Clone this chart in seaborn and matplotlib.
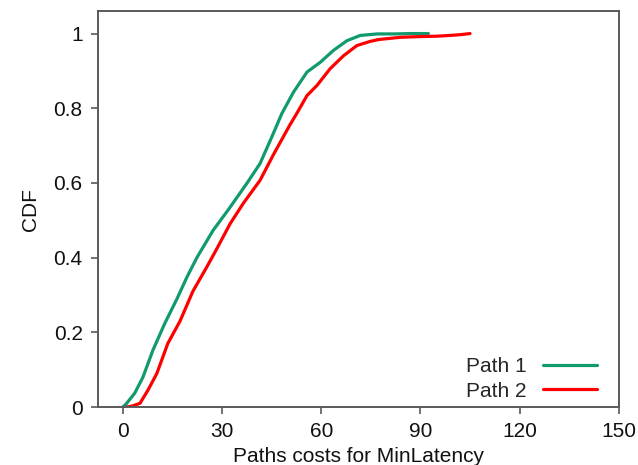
import matplotlib
matplotlib.use("Agg")
import matplotlib.pyplot as plt
import seaborn as sns
import pandas as pd

# CDF of path costs (x = cost, y = cumulative fraction)
path1_cost = [0.0, 1.0, 3.6, 6.1, 9.1, 12.7, 16.4, 19.4, 22.4, 27.3, 31.8, 37.6,
              41.5, 45.0, 48.1, 51.6, 55.7, 59.7, 63.7, 67.8, 71.8, 76.9,
              82.0, 87.0, 92.4]
path1_cdf = [0.0, 0.008, 0.037, 0.08, 0.152, 0.224, 0.29, 0.348, 0.40, 0.473,
             0.527, 0.60, 0.652, 0.722, 0.786, 0.843, 0.897, 0.923, 0.955, 0.981,
             0.995, 0.999, 0.999, 1.0, 1.0]

path2_cost = [1.2, 3.0, 5.2, 7.6, 10.3, 13.6, 17.3, 21.2, 25.4, 28.2, 32.4, 36.4,
              41.5, 45.5, 48.0, 50.5, 52.6, 55.7, 58.7, 62.7, 66.8, 70.8, 74.8,
              77.3, 84.0, 90.0, 95.0, 99.0, 102.0, 105.0]
path2_cdf = [0.0, 0.003, 0.01, 0.045, 0.09, 0.17, 0.23, 0.31, 0.375, 0.42, 0.49,
             0.545, 0.607, 0.675, 0.715, 0.755, 0.786, 0.834, 0.861, 0.906, 0.941,
             0.968, 0.979, 0.984, 0.99, 0.992, 0.993, 0.995, 0.997, 1.0]

series_names = ["Path 1", "Path 2"]
series_colors = ["#109A6E", "#FF0000"]

x_ticks = [0, 30, 60, 90, 120, 150]
y_ticks = [0, 0.2, 0.4, 0.6, 0.8, 1.0]
y_tick_labels = ["0", "0.2", "0.4", "0.6", "0.8", "1"]

df = pd.concat([
    pd.DataFrame({"cost": path1_cost, "cdf": path1_cdf, "path": series_names[0]}),
    pd.DataFrame({"cost": path2_cost, "cdf": path2_cdf, "path": series_names[1]}),
])

sns.set_theme(style="white")
plt.rcParams["font.family"] = ["Liberation Sans", "DejaVu Sans"]

fig = plt.figure(figsize=(6.38, 4.65), dpi=100)
ax = fig.add_axes([0.1536, 0.1247, 0.8164, 0.8513])

sns.lineplot(data=df, x="cost", y="cdf", hue="path", palette=series_colors,
             sort=False, estimator=None, linewidth=2.3, ax=ax)

ax.set_xlim(-7.5, 150)
ax.set_ylim(0, 1.06)
ax.set_xticks(x_ticks)
ax.set_xticklabels([str(t) for t in x_ticks])
ax.set_yticks(y_ticks)
ax.set_yticklabels(y_tick_labels)

ax.set_xlabel("Paths costs for MinLatency", fontsize=15, color="#111111", labelpad=4)
ax.set_ylabel("CDF", fontsize=15, color="#111111", labelpad=10)

for side in ["left", "right", "top", "bottom"]:
    ax.spines[side].set_color("#5a5a5a")
    ax.spines[side].set_linewidth(1.4)
    ax.spines[side].set_visible(True)

ax.tick_params(axis="both", which="major", direction="out", length=5, width=1.2,
               color="#5a5a5a", labelsize=15, labelcolor="#111111",
               bottom=True, left=True, top=False, right=False, pad=6)

leg = ax.legend(title=None, loc="lower right", frameon=False, fontsize=15,
                markerfirst=False, handlelength=2.6, handletextpad=0.8,
                labelspacing=0.25, borderaxespad=0.0,
                bbox_to_anchor=(0.974, -0.005))
for line in leg.get_lines():
    line.set_linewidth(2.3)

fig.savefig("out.png", dpi=100)
